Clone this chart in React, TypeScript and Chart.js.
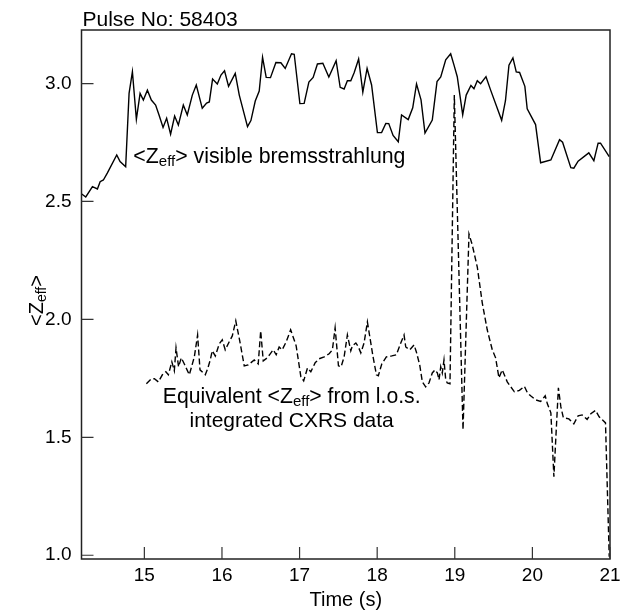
import React, { useEffect, useRef } from "react";
import { Chart, registerables } from "chart.js";

Chart.register(...registerables);

const TITLE = "Pulse No: 58403";
const X_TITLE = "Time (s)";
const X_TICKS = [15, 16, 17, 18, 19, 20, 21];
const Y_TICKS = [1.0, 1.5, 2.0, 2.5, 3.0];
const X_MIN = 14.19;
const X_MAX = 21;
const Y_MIN = 0.984;
const Y_MAX = 3.227;

// <Zeff> from visible bremsstrahlung (solid)
const SOLID_T = [
  14.18, 14.245, 14.331, 14.395, 14.43, 14.472, 14.524, 14.644, 14.687, 14.759,
  14.803, 14.846, 14.897, 14.945, 14.987, 15.039, 15.09, 15.145, 15.189, 15.241,
  15.287, 15.338, 15.39, 15.438, 15.502, 15.553, 15.618, 15.669, 15.746, 15.802,
  15.837, 15.879, 15.94, 15.987, 16.033, 16.085, 16.171, 16.223, 16.329, 16.373,
  16.429, 16.48, 16.523, 16.57, 16.625, 16.695, 16.759, 16.815, 16.896, 16.931,
  17.004, 17.059, 17.12, 17.175, 17.23, 17.3, 17.377, 17.471, 17.523, 17.574,
  17.616, 17.66, 17.703, 17.761, 17.815, 17.87, 17.928, 18.003, 18.057, 18.111,
  18.149, 18.205, 18.272, 18.314, 18.4, 18.458, 18.507, 18.565, 18.616, 18.71,
  18.771, 18.819, 18.883, 18.947, 18.99, 19.032, 19.102, 19.147, 19.208, 19.247,
  19.29, 19.333, 19.402, 19.462, 19.604, 19.653, 19.698, 19.749, 19.792, 19.835,
  19.903, 19.933, 20.041, 20.106, 20.238, 20.35, 20.389, 20.495, 20.534, 20.589,
  20.727, 20.792, 20.847, 20.878, 20.99,
];
const SOLID_V = [
  2.535, 2.519, 2.563, 2.553, 2.584, 2.591, 2.621, 2.697, 2.669, 2.647,
  2.958, 3.05, 2.848, 2.958, 2.93, 2.972, 2.93, 2.909, 2.867, 2.814,
  2.853, 2.785, 2.862, 2.824, 2.909, 2.867, 2.951, 2.994, 2.895, 2.917,
  2.922, 3.019, 2.998, 3.036, 3.054, 2.988, 3.043, 2.951, 2.817, 2.843,
  2.926, 2.968, 3.111, 3.026, 3.025, 3.089, 3.088, 3.064, 3.126, 3.124,
  2.915, 2.916, 3.006, 3.026, 3.083, 3.086, 3.028, 3.097, 2.984, 2.977,
  3.012, 3.012, 3.046, 3.104, 2.964, 3.064, 2.994, 2.792, 2.792, 2.831,
  2.83, 2.78, 2.753, 2.867, 2.847, 2.897, 2.998, 2.931, 2.79, 2.845,
  3.008, 3.028, 3.101, 3.126, 3.078, 3.029, 2.867, 2.951, 2.992, 2.978,
  3.012, 2.999, 3.029, 2.972, 2.844, 2.927, 3.078, 3.109, 3.049, 3.047,
  2.988, 2.893, 2.826, 2.664, 2.676, 2.762, 2.751, 2.643, 2.641, 2.671,
  2.706, 2.673, 2.747, 2.747, 2.69,
];

// Equivalent <Zeff> from l.o.s. integrated CXRS data (dashed)
const DASH_T = [
  15.026, 15.09, 15.129, 15.18, 15.232, 15.277, 15.309, 15.354, 15.386, 15.408,
  15.441, 15.476, 15.515, 15.579, 15.644, 15.686, 15.717, 15.785, 15.815, 15.849,
  15.875, 15.914, 15.965, 16.004, 16.042, 16.094, 16.133, 16.178, 16.229, 16.287,
  16.338, 16.416, 16.467, 16.499, 16.532, 16.583, 16.622, 16.66, 16.699, 16.737,
  16.776, 16.828, 16.885, 16.956, 17.017, 17.053, 17.102, 17.145, 17.201, 17.252,
  17.317, 17.381, 17.423, 17.458, 17.501, 17.535, 17.574, 17.616, 17.66, 17.681,
  17.725, 17.758, 17.789, 17.831, 17.874, 17.905, 17.947, 17.99, 18.015, 18.059,
  18.118, 18.188, 18.247, 18.304, 18.346, 18.368, 18.42, 18.475, 18.505, 18.548,
  18.582, 18.625, 18.668, 18.71, 18.745, 18.775, 18.797, 18.819, 18.839, 18.861,
  18.883, 18.903, 18.938, 18.994, 19.106, 19.183, 19.225, 19.29, 19.354,
  19.418, 19.483, 19.526, 19.569, 19.611, 19.676, 19.768, 19.833, 19.897, 19.936,
  19.977, 20.041, 20.106, 20.165, 20.193, 20.238, 20.277, 20.306, 20.335, 20.367,
  20.399, 20.47, 20.534, 20.589, 20.641, 20.705, 20.753, 20.813, 20.86, 20.901,
  20.942, 20.99,
];
const DASH_V = [
  1.727, 1.748, 1.748, 1.735, 1.765, 1.778, 1.765, 1.82, 1.782, 1.879,
  1.799, 1.837, 1.811, 1.765, 1.841, 1.934, 1.786, 1.765, 1.79, 1.828,
  1.867, 1.845, 1.896, 1.913, 1.871, 1.905, 1.93, 1.994, 1.909, 1.803,
  1.807, 1.828, 1.811, 1.951, 1.824, 1.837, 1.854, 1.871, 1.85, 1.883,
  1.871, 1.905, 1.956, 1.888, 1.756, 1.739, 1.794, 1.778, 1.816, 1.833,
  1.841, 1.854, 1.871, 1.964, 1.803, 1.799, 1.841, 1.934, 1.867, 1.888,
  1.9, 1.883, 1.858, 1.9, 1.989, 1.926, 1.841, 1.765, 1.761, 1.811,
  1.841, 1.845, 1.85, 1.9, 1.934, 1.883, 1.871, 1.892, 1.862, 1.807,
  1.735, 1.714, 1.731, 1.773, 1.786, 1.773, 1.744, 1.799, 1.773, 1.828,
  1.744, 1.731, 1.727, 2.951, 1.532, 2.362, 2.316, 2.222, 2.07,
  1.956, 1.871, 1.837, 1.752, 1.786, 1.735, 1.693, 1.699, 1.716, 1.689,
  1.676, 1.659, 1.652, 1.676, 1.642, 1.604, 1.333, 1.523, 1.71, 1.629,
  1.583, 1.578, 1.557, 1.591, 1.595, 1.576, 1.6, 1.614, 1.587, 1.574,
  1.561, 0.994,
];

// Text labels (anchored in data units)
const BREMS_LABEL = { t: 14.858, v: 2.663 };
const CXRS_LABEL = { t: 16.898, v1: 1.647, v2: 1.543 };

const FONT = '"Liberation Sans", Arial, Helvetica, sans-serif';

type Part = { text: string; sub?: boolean };

function drawParts(
  ctx: CanvasRenderingContext2D,
  parts: Part[],
  x: number,
  y: number,
  size: number,
  align: "left" | "center"
) {
  const subSize = Math.round(size * 0.7);
  const widths = parts.map((p) => {
    ctx.font = `${p.sub ? subSize : size}px ${FONT}`;
    return ctx.measureText(p.text).width;
  });
  const total = widths.reduce((a, b) => a + b, 0);
  let cx = align === "center" ? x - total / 2 : x;
  ctx.textAlign = "left";
  ctx.textBaseline = "alphabetic";
  parts.forEach((p, i) => {
    ctx.font = `${p.sub ? subSize : size}px ${FONT}`;
    ctx.fillText(p.text, cx, p.sub ? y + 3 : y);
    cx += widths[i];
  });
}

const framePlugin = {
  id: "framePlugin",
  afterDraw(chart: any) {
    const { ctx, chartArea } = chart;
    const xs = chart.scales.x;
    const ys = chart.scales.y;
    const { left, right, top, bottom } = chartArea;
    ctx.save();
    ctx.strokeStyle = "#222";
    ctx.lineWidth = 1.5;
    ctx.strokeRect(left, top, right - left, bottom - top);
    ctx.lineWidth = 1.2;
    ctx.strokeStyle = "#333";
    ctx.beginPath();
    X_TICKS.forEach((v) => {
      const px = xs.getPixelForValue(v);
      ctx.moveTo(px, bottom);
      ctx.lineTo(px, bottom - 12);
    });
    Y_TICKS.forEach((v) => {
      const py = ys.getPixelForValue(v);
      ctx.moveTo(left, py);
      ctx.lineTo(left + 12, py);
    });
    ctx.stroke();

    ctx.fillStyle = "#000";
    // title
    ctx.font = `21px ${FONT}`;
    ctx.textAlign = "left";
    ctx.textBaseline = "alphabetic";
    ctx.fillText(TITLE, left + 1, top - 4.5);
    // x title
    ctx.font = `20px ${FONT}`;
    ctx.textAlign = "center";
    ctx.fillText(X_TITLE, (left + right) / 2, bottom + 47);
    // y title
    ctx.save();
    ctx.translate(left - 39, (top + bottom) / 2 + 6);
    ctx.rotate(-Math.PI / 2);
    drawParts(ctx, [{ text: "<Z" }, { text: "eff", sub: true }, { text: ">" }], 0, 0, 20, "center");
    ctx.restore();

    // annotations
    drawParts(
      ctx,
      [{ text: "<Z" }, { text: "eff", sub: true }, { text: "> visible bremsstrahlung" }],
      xs.getPixelForValue(BREMS_LABEL.t),
      ys.getPixelForValue(BREMS_LABEL.v),
      21.3,
      "left"
    );
    drawParts(
      ctx,
      [{ text: "Equivalent <Z" }, { text: "eff", sub: true }, { text: "> from l.o.s." }],
      xs.getPixelForValue(CXRS_LABEL.t),
      ys.getPixelForValue(CXRS_LABEL.v1),
      21.2,
      "center"
    );
    drawParts(
      ctx,
      [{ text: "integrated CXRS data" }],
      xs.getPixelForValue(CXRS_LABEL.t),
      ys.getPixelForValue(CXRS_LABEL.v2),
      21,
      "center"
    );
    ctx.restore();
  },
};

export default function App() {
  const ref = useRef<HTMLCanvasElement | null>(null);

  useEffect(() => {
    if (!ref.current) return;
    const solid = SOLID_T.map((t, i) => ({ x: t, y: SOLID_V[i] }));
    const dashed = DASH_T.map((t, i) => ({ x: t, y: DASH_V[i] }));
    const chart = new Chart(ref.current, {
      type: "line",
      data: {
        datasets: [
          {
            label: "<Zeff> visible bremsstrahlung",
            data: solid,
            borderColor: "#000",
            borderWidth: 1.4,
            pointRadius: 0,
            tension: 0,
            fill: false,
          },
          {
            label: "Equivalent <Zeff> from l.o.s. integrated CXRS data",
            data: dashed,
            borderColor: "#000",
            borderWidth: 1.4,
            borderDash: [6, 3],
            pointRadius: 0,
            tension: 0,
            fill: false,
          },
        ],
      },
      options: {
        animation: false,
        responsive: true,
        maintainAspectRatio: false,
        parsing: false as any,
        layout: { padding: { top: 30, right: 17, left: 0, bottom: 0 } },
        plugins: {
          legend: { display: false },
          tooltip: { enabled: false },
          title: { display: false },
        },
        scales: {
          x: {
            type: "linear",
            min: X_MIN,
            max: X_MAX,
            grid: { display: false, drawTicks: false },
            border: { display: false },
            afterBuildTicks: (s: any) => {
              s.ticks = X_TICKS.map((value) => ({ value }));
            },
            afterFit: (s: any) => {
              s.height = 56;
            },
            ticks: {
              autoSkip: false,
              maxRotation: 0,
              padding: 5,
              color: "#000",
              font: { family: FONT, size: 19 },
              callback: (v: any) => String(v),
            },
          },
          y: {
            type: "linear",
            min: Y_MIN,
            max: Y_MAX,
            grid: { display: false, drawTicks: false },
            border: { display: false },
            afterBuildTicks: (s: any) => {
              s.ticks = Y_TICKS.map((value) => ({ value }));
            },
            afterFit: (s: any) => {
              s.width = 81.5;
            },
            ticks: {
              autoSkip: false,
              padding: 10,
              color: "#000",
              font: { family: FONT, size: 19 },
              callback: (v: any) => Number(v).toFixed(1),
            },
          },
        },
      },
      plugins: [framePlugin],
    });
    return () => chart.destroy();
  }, []);

  return (
    <div
      style={{
        position: "fixed",
        left: 0,
        top: 0,
        width: 627,
        height: 615,
        background: "#fff",
      }}
    >
      <canvas ref={ref} />
    </div>
  );
}
